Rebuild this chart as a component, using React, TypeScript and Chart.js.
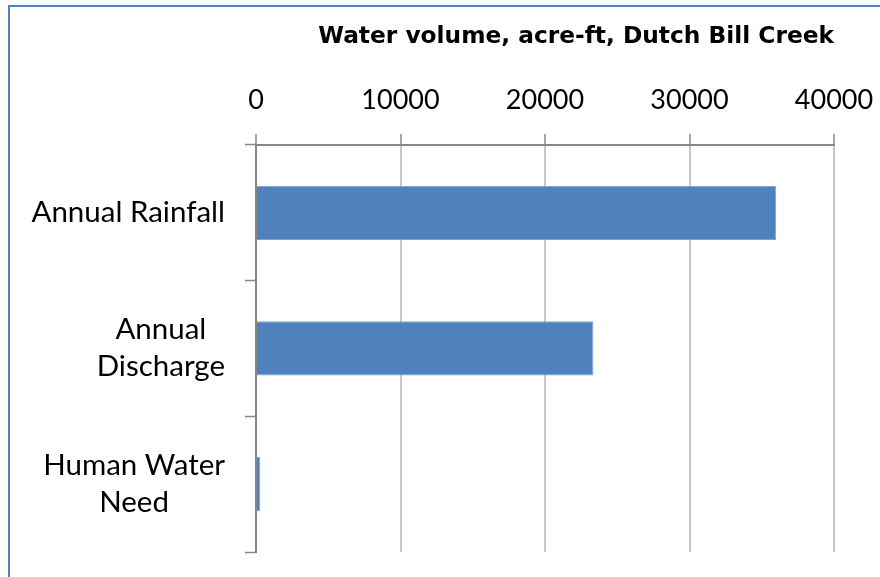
import React, { useEffect, useRef } from "react";
import { Chart, registerables } from "chart.js";

Chart.register(...registerables);

const categoryLines: string[][] = [["Annual Rainfall"], ["Annual", "Discharge"], ["Human Water", "Need"]];
const seriesValues: number[] = [36000, 23350, 300];
const xTickValues: number[] = [0, 10000, 20000, 30000, 40000];
const chartTitle = "Water volume, acre-ft, Dutch Bill Creek";

const FONT = "Lato, 'Open Sans', sans-serif";
const TITLE_FONT = "'DejaVu Sans', Lato, sans-serif";

export default function App() {
  const ref = useRef<HTMLCanvasElement>(null);

  useEffect(() => {
    const canvas = ref.current;
    if (!canvas) return;

    const framePlugin = {
      id: "frame",
      beforeDraw(chart: any) {
        const ctx = chart.ctx;
        ctx.save();
        ctx.fillStyle = "#ffffff";
        ctx.fillRect(0, 0, chart.width, chart.height);
        ctx.strokeStyle = "#4f81bd";
        ctx.lineWidth = 2;
        ctx.beginPath();
        ctx.moveTo(9, chart.height + 4);
        ctx.lineTo(9, 6);
        ctx.lineTo(chart.width + 4, 6);
        ctx.stroke();
        ctx.restore();
      },
    };

    const catLabelPlugin = {
      id: "catLabels",
      afterDraw(chart: any) {
        const ys = chart.scales.y;
        const ctx = chart.ctx;
        ctx.save();
        ctx.font = `29.5px ${FONT}`;
        ctx.fillStyle = "#000000";
        ctx.textBaseline = "middle";
        ctx.textAlign = "center";
        const right = chart.chartArea.left - 31;
        const lh = 37;
        categoryLines.forEach((lines, i) => {
          const cy = ys.getPixelForValue(i);
          const w = Math.max(...lines.map((l) => ctx.measureText(l).width));
          const cx = right - w / 2;
          const y0 = cy - ((lines.length - 1) * lh) / 2;
          lines.forEach((l, j) => ctx.fillText(l, cx, y0 + j * lh));
        });
        ctx.restore();
      },
    };

    const chart = new Chart(canvas, {
      type: "bar",
      data: {
        labels: categoryLines.map((c) => c.join(" ")),
        datasets: [
          {
            data: seriesValues,
            backgroundColor: "#4f81bd",
            borderColor: "#7ba3d6",
            borderWidth: 1,
            barPercentage: 0.4,
            categoryPercentage: 1,
          },
        ],
      },
      options: {
        indexAxis: "y",
        animation: false,
        responsive: false,
        layout: { padding: { left: 0, right: 46, top: 0, bottom: 25 } },
        plugins: {
          legend: { display: false },
          tooltip: { enabled: false },
          title: {
            display: true,
            text: chartTitle,
            align: "end",
            color: "#000000",
            font: { family: TITLE_FONT, size: 23.3, weight: "bold" },
            padding: { top: 22.7, bottom: 10 },
          },
        },
        scales: {
          x: {
            type: "linear",
            position: "top",
            min: 0,
            max: 40000,
            afterBuildTicks: (s: any) => {
              s.ticks = xTickValues.map((v) => ({ value: v }));
            },
            afterFit: (s: any) => {
              s.height = 84.3;
              s.paddingLeft = 0;
              s.paddingRight = 0;
            },
            ticks: {
              font: { family: FONT, size: 27 },
              color: "#000000",
              padding: 17,
              maxRotation: 0,
              callback: (v: any) => String(v),
            },
            grid: {
              color: "#c8c8c8",
              lineWidth: 2,
              tickColor: "#868686",
              tickLength: 11,
              tickWidth: 1.5,
            },
            border: { color: "#868686", width: 2 },
          },
          y: {
            position: "left",
            ticks: { display: false },
            grid: {
              drawOnChartArea: false,
              offset: true,
              tickColor: "#868686",
              tickLength: 11,
              tickWidth: 1.5,
            },
            border: { color: "#868686", width: 2 },
            afterFit: (s: any) => {
              s.width = 256;
            },
          },
        },
      } as any,
      plugins: [framePlugin, catLabelPlugin],
    });

    return () => chart.destroy();
  }, []);

  return (
    <div style={{ position: "absolute", left: 0, top: 0, width: 880, height: 577 }}>
      <canvas ref={ref} width={880} height={577} style={{ display: "block" }} />
    </div>
  );
}
